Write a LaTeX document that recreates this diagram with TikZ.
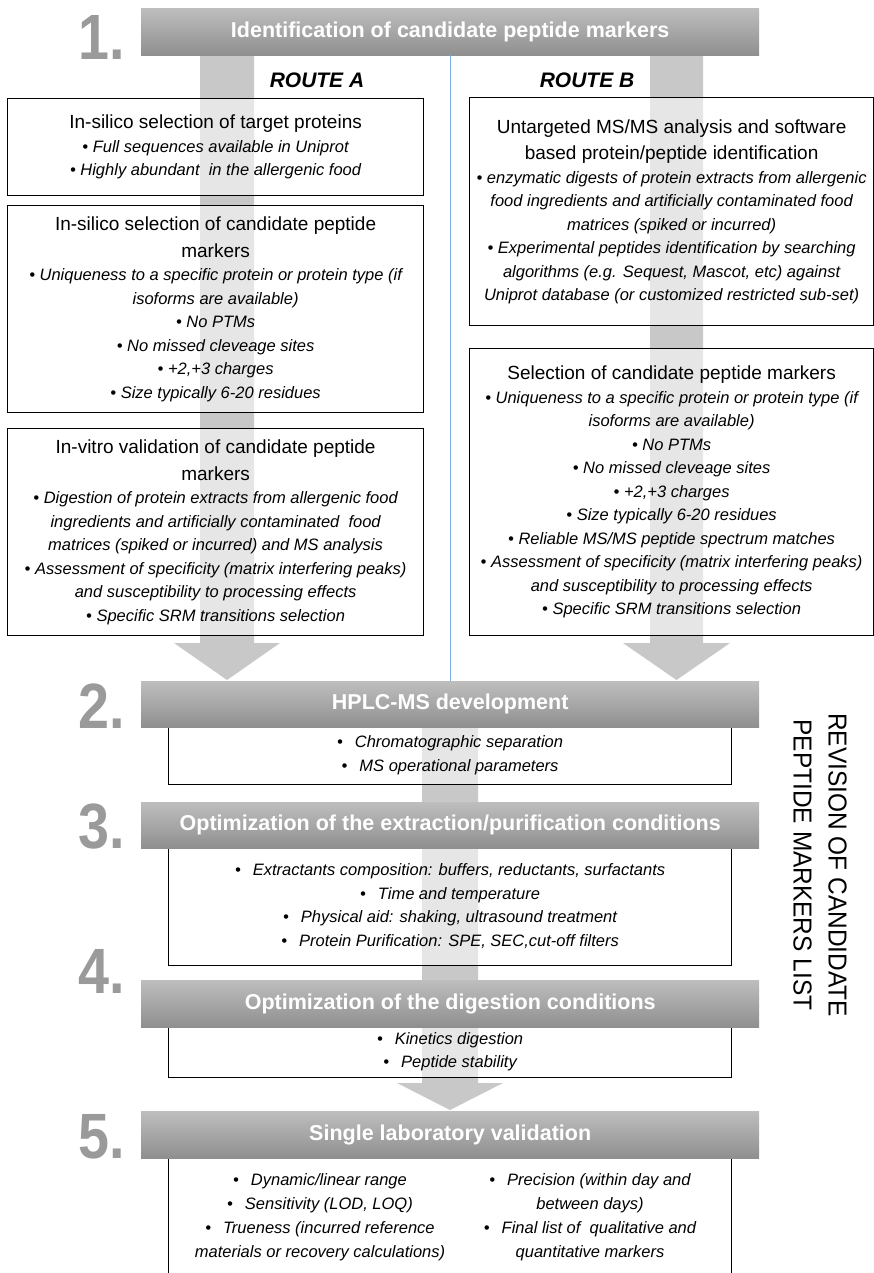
\documentclass[tikz,border=0pt]{standalone}
\usepackage{fontspec}
\setmainfont{Liberation Sans}
\newfontfamily\revfont{Liberation Sans}[FakeStretch=0.94]
\newfontfamily\numfont{Liberation Sans}[FakeStretch=0.87]
\definecolor{bartop}{HTML}{BEBEBE}
\definecolor{barbot}{HTML}{8F8F8F}
\definecolor{bandgray}{HTML}{C8C8C8}
\definecolor{numgray}{HTML}{9A9A9A}
\definecolor{splitblue}{HTML}{7EAEDB}
\newcommand\blt{\textbullet\ }
\newcommand\bltw{\textbullet\hspace{12pt}}
\newcommand\ttl{\upshape\fontsize{19}{27}\selectfont}

\begin{document}
\begin{tikzpicture}[x=1pt, y=-1pt,
    box/.style={draw=black, line width=1.2pt, fill=white, fill opacity=0.55,
      text opacity=1, anchor=north west, align=center, inner sep=2pt,
      font=\fontsize{16.5}{23.5}\selectfont\itshape},
    cols/.style={align=center, inner sep=0pt,
      font=\fontsize{16.5}{24}\selectfont\itshape},
    bar/.style={anchor=north west, minimum width=618, minimum height=47,
      top color=bartop, bottom color=barbot, text=white,
      font=\fontsize{21.5}{26}\selectfont\bfseries},
    num/.style={anchor=base east, inner sep=0pt, text=numgray,
      font=\numfont\fontsize{64}{70}\selectfont\bfseries},
    route/.style={font=\fontsize{21}{25}\selectfont\bfseries\itshape},
    band/.style={fill=bandgray}]
  \useasboundingbox (0,0) rectangle (874,1273);
  \clip (0,0) rectangle (874,1273);
  \fill[white] (0,0) rectangle (874,1273);
  % broad arrows
  \fill[band] (200,55) -- (254,55) -- (254,643) -- (280,643) -- (227,680)
    -- (174,643) -- (200,643) -- cycle;
  \fill[band] (650,55) -- (703,55) -- (703,643) -- (730,643) -- (676.5,680)
    -- (623,643) -- (650,643) -- cycle;
  \fill[band] (422,727) -- (478,727) -- (478,1083) -- (503,1083) -- (450,1110)
    -- (397,1083) -- (422,1083) -- cycle;
  % route A
  \node[route] (ra) at (317,80) {ROUTE A};
  \node[box, minimum width=416, minimum height=97] (a1) at (7,98)
    {{\ttl In-silico selection of target proteins}\\
     \blt Full sequences available in Uniprot\\
     \blt Highly abundant \ in the allergenic food};
  \node[box, minimum width=416, minimum height=207] (a2) at (7,205)
    {{\ttl In-silico selection of candidate peptide}\\[3pt]
     {\ttl markers}\\
     \blt Uniqueness to a specific protein or protein type (if\\
     isoforms are available)\\
     \blt No PTMs\\
     \blt No missed cleveage sites\\
     \blt +2,+3 charges\\
     \blt Size typically 6-20 residues};
  \node[box, minimum width=416, minimum height=207] (a3) at (7,428)
    {{\ttl In-vitro validation of candidate peptide}\\[3pt]
     {\ttl markers}\\
     \blt Digestion of protein extracts from allergenic food\\
     ingredients and artificially contaminated \ food\\
     matrices (spiked or incurred) and MS analysis\\
     \blt Assessment of specificity (matrix interfering peaks)\\
     and susceptibility to processing effects\\
     \blt Specific SRM transitions selection};
  % route B
  \node[route] (rb) at (587,80) {ROUTE B};
  \node[box, minimum width=404, minimum height=228] (b1) at (469,97)
    {{\ttl Untargeted MS/MS analysis and software}\\[3pt]
     {\ttl based protein/peptide identification}\\
     \blt enzymatic digests of protein extracts from allergenic\\
     food ingredients and artificially contaminated food\\
     matrices (spiked or incurred)\\
     \blt Experimental peptides identification by searching\\
     algorithms (e.g. Sequest, Mascot, etc) against\\
     Uniprot database (or customized restricted sub-set)};
  \node[box, minimum width=404, minimum height=287] (b2) at (469,348)
    {{\ttl Selection of candidate peptide markers}\\
     \blt Uniqueness to a specific protein or protein type (if\\
     isoforms are available)\\
     \blt No PTMs\\
     \blt No missed cleveage sites\\
     \blt +2,+3 charges\\
     \blt Size typically 6-20 residues\\
     \blt Reliable MS/MS peptide spectrum matches\\
     \blt Assessment of specificity (matrix interfering peaks)\\
     and susceptibility to processing effects\\
     \blt Specific SRM transitions selection};
  % steps
  \node[box, minimum width=563, minimum height=59] (c2) at (168,725)
    {\bltw Chromatographic separation\\
     \bltw MS operational parameters};
  \node[box, minimum width=563, minimum height=119] (c3) at (168,846)
    {\bltw Extractants composition: buffers, reductants, surfactants\\
     \bltw Time and temperature\\
     \bltw Physical aid: shaking, ultrasound treatment\\
     \bltw Protein Purification: SPE, SEC,cut-off filters};
  \node[box, minimum width=563, minimum height=52] (c4) at (168,1025)
    {\bltw Kinetics digestion\\
     \bltw Peptide stability};
  \node[box, minimum width=563, minimum height=125] (c5) at (168,1156) {};
  \node[cols] (c5l) at (320,1217)
    {\bltw Dynamic/linear range\\
     \bltw Sensitivity (LOD, LOQ)\\
     \bltw Trueness (incurred reference\\
     materials or recovery calculations)};
  \node[cols] (c5r) at (590,1217)
    {\bltw Precision (within day and\\
     between days)\\
     \bltw Final list of \ qualitative and\\
     quantitative markers};
  \node[bar] (s1) at (141,8) {Identification of candidate peptide markers};
  \node[bar, minimum height=46] (s2) at (141,681) {HPLC-MS development};
  \node[bar, minimum height=46] (s3) at (141,802)
    {Optimization of the extraction/purification conditions};
  \node[bar] (s4) at (141,980) {Optimization of the digestion conditions};
  \node[bar] (s5) at (141,1111) {Single laboratory validation};
  \draw[splitblue, line width=0.8pt] (s1.south) -- (s2.north);
  \node[num] (n1) at (125,60) {1.};
  \node[num] (n2) at (125,728) {2.};
  \node[num] (n3) at (125,848) {3.};
  \node[num] (n4) at (125,993) {4.};
  \node[num] (n5) at (125,1158) {5.};
  \node[rotate=-90, align=center, font=\revfont\fontsize{26}{35}\selectfont]
    (rev) at (820,865) {REVISION OF CANDIDATE\\PEPTIDE MARKERS LIST};
\end{tikzpicture}
\end{document}
